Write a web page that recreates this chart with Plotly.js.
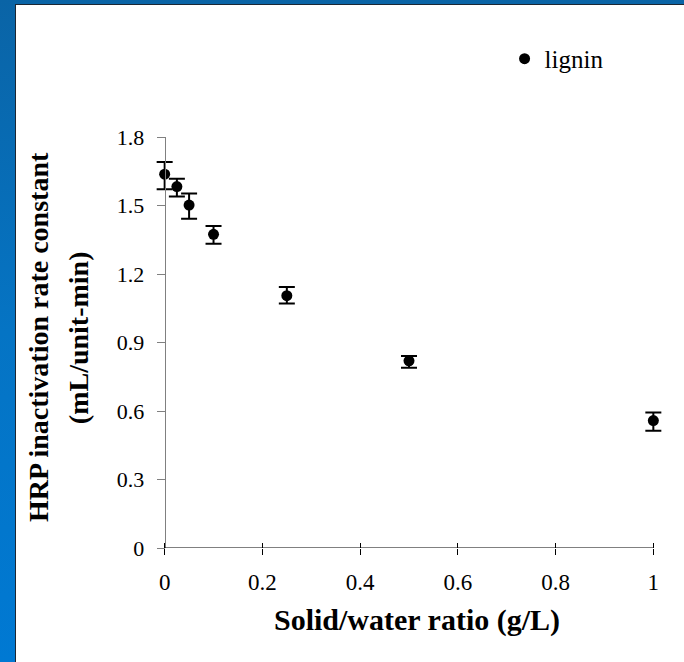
<!DOCTYPE html>
<html>
<head>
<meta charset="utf-8">
<script src="https://cdn.plot.ly/plotly-3.0.1.min.js"></script>
<style>
  html, body { margin: 0; padding: 0; }
  body { width: 684px; height: 662px; position: relative; overflow: hidden;
         background: linear-gradient(to bottom, #0a64a6 0%, #0574c4 50%, #0079d3 100%); }
  #paper { position: absolute; left: 15px; top: 4px; right: 0; bottom: 0;
           background: #ffffff; border-left: 1px solid #1c2733; border-top: 1px solid #1c2733; }
  #chart { position: absolute; left: 0; top: 0; width: 684px; height: 662px; }
</style>
</head>
<body>
<div id="paper"></div>
<div id="chart"></div>
<script>
const ratio = [0, 0.025, 0.05, 0.1, 0.25, 0.5, 1];
const rateConst = [1.637, 1.583, 1.502, 1.374, 1.105, 0.820, 0.558];
const errPlus = [0.053, 0.034, 0.051, 0.036, 0.038, 0.021, 0.035];
const errMinus = [0.066, 0.044, 0.060, 0.042, 0.034, 0.031, 0.044];
const seriesName = 'lignin';
const xTicks = [0, 0.2, 0.4, 0.6, 0.8, 1];
const xTickText = ['0', '0.2', '0.4', '0.6', '0.8', '1'];
const yTicks = [0, 0.3, 0.6, 0.9, 1.2, 1.5, 1.8];
const yTickText = ['0', '0.3', '0.6', '0.9', '1.2', '1.5', '1.8'];
const xTitle = 'Solid/water ratio (g/L)';
const yTitle1 = 'HRP inactivation rate constant';
const yTitle2 = '(mL/unit-min)';

const FONT = 'Liberation Serif';
const PAD = 0.03;
const XMIN = 0, XMAX = 1, YMIN = 0, YMAX = 1.8;
const zeroFrac = PAD / (XMAX - XMIN + 2 * PAD);

const trace = {
  x: ratio, y: rateConst, name: seriesName,
  type: 'scatter', mode: 'markers',
  marker: { color: '#000000', size: 11 },
  error_y: { type: 'data', symmetric: false, array: errPlus, arrayminus: errMinus,
             color: '#000000', thickness: 2, width: 8 },
  cliponaxis: false
};
const dummy = { x: [0.5], y: [0], xaxis: 'x2', yaxis: 'y', type: 'scatter', mode: 'markers',
  marker: { opacity: 0 }, showlegend: false, hoverinfo: 'skip' };

const layout = {
  width: 684, height: 662,
  margin: { l: 150.4, r: 16.3, t: 137, b: 114 },
  paper_bgcolor: 'rgba(0,0,0,0)', plot_bgcolor: 'rgba(0,0,0,0)',
  font: { family: FONT, color: '#000000', size: 21 },
  showlegend: true,
  legend: { x: 0.6845, y: 1.19, xanchor: 'left', yanchor: 'middle', bgcolor: 'rgba(0,0,0,0)',
            font: { family: FONT, size: 25, color: '#000' } },
  xaxis: {
    range: [XMIN - PAD, XMAX + PAD], tickvals: xTicks, ticktext: xTickText,
    showgrid: false, zeroline: false, showline: false,
    ticks: 'outside', ticklen: 6, tickcolor: '#000000', tickwidth: 1,
    ticklabelstandoff: 7,
    tickfont: { family: FONT, size: 23, color: '#000' }
  },
  xaxis2: {
    range: [XMIN - PAD, XMAX + PAD], tickvals: xTicks, overlaying: 'x', anchor: 'y', side: 'bottom',
    showgrid: false, zeroline: false, showline: false, showticklabels: false,
    ticks: 'inside', ticklen: 5, tickcolor: '#000000', tickwidth: 1
  },
  yaxis: {
    range: [YMIN, YMAX], tickvals: yTicks, ticktext: yTickText,
    anchor: 'free', position: zeroFrac,
    showgrid: false, zeroline: false, showline: true, linecolor: '#808080', linewidth: 1.5,
    ticks: 'outside', ticklen: 8, tickcolor: '#808080', tickwidth: 1,
    ticklabelstandoff: 8,
    tickfont: { family: FONT, size: 22, color: '#000' }
  },
  shapes: [
    { type: 'line', xref: 'x', yref: 'y', x0: XMIN, x1: XMAX, y0: YMIN, y1: YMIN,
      line: { color: '#000000', width: 1 } }
  ],
  annotations: [
    { text: '<b>' + yTitle1 + '</b>', xref: 'paper', yref: 'paper', x: -0.2163, y: 0.513,
      xanchor: 'center', yanchor: 'middle', textangle: -90, showarrow: false,
      font: { family: FONT, size: 28, color: '#000' } },
    { text: '<b>' + yTitle2 + '</b>', xref: 'paper', yref: 'paper', x: -0.1390, y: 0.513,
      xanchor: 'center', yanchor: 'middle', textangle: -90, showarrow: false,
      font: { family: FONT, size: 28, color: '#000' } },
    { text: '<b>' + xTitle + '</b>', xref: 'paper', yref: 'paper', x: 0.515, y: -0.128,
      xanchor: 'center', yanchor: 'top', showarrow: false,
      font: { family: FONT, size: 30, color: '#000' } }
  ]
};

Plotly.newPlot('chart', [trace, dummy], layout, { staticPlot: true, displayModeBar: false });
</script>
</body>
</html>
